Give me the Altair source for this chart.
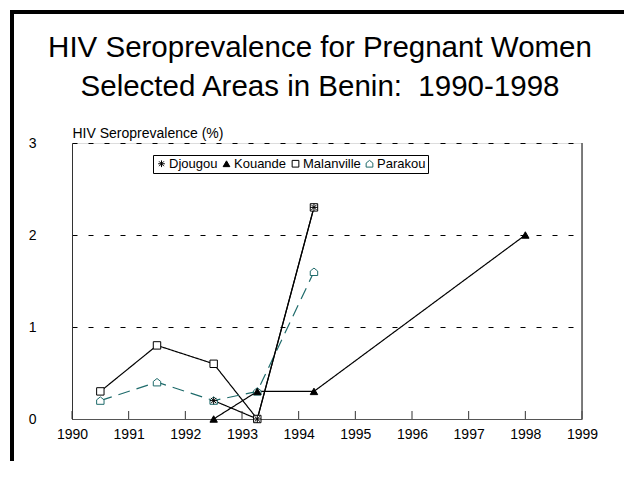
import altair as alt
import pandas as pd

# ---- data ----
series_order = ["Djougou", "Kouande", "Malanville", "Parakou"]

malanville_years = [1990.5, 1991.5, 1992.5, 1993.27, 1994.27]
malanville_vals = [0.3, 0.8, 0.6, 0.0, 2.3]

djougou_years = [1992.5, 1993.27, 1994.27]
djougou_vals = [0.2, 0.0, 2.3]

kouande_years = [1992.5, 1993.27, 1994.27, 1998.0]
kouande_vals = [0.0, 0.3, 0.3, 2.0]

parakou_years = [1990.5, 1991.5, 1992.5, 1993.27, 1994.27]
parakou_vals = [0.2, 0.4, 0.2, 0.3, 1.6]

x_ticks = list(range(1990, 2000))
y_ticks = [0, 1, 2, 3]

title_lines = ["HIV Seroprevalence for Pregnant Women", "Selected Areas in Benin:\u00a0 1990-1998"]

rows = []
for name, ys, vs in [("Malanville", malanville_years, malanville_vals),
                     ("Parakou", parakou_years, parakou_vals),
                     ("Kouande", kouande_years, kouande_vals),
                     ("Djougou", djougou_years, djougou_vals)]:
    for i, (x, v) in enumerate(zip(ys, vs)):
        rows.append({"series": name, "line_series": name, "year": x, "value": v, "ord": i})
df = pd.DataFrame(rows)

FONT = "Liberation Sans"
TEAL = "#1f6b6b"

star = "M-1,0L1,0M0,-1L0,1M-0.72,-0.72L0.72,0.72M-0.72,0.72L0.72,-0.72"
house = "M0,-1L1,-0.2L1,1L-1,1L-1,-0.2Z"

xscale = alt.Scale(domain=[1990, 1999], nice=False, zero=False)
yscale = alt.Scale(domain=[0, 3], nice=False)

base = alt.Chart(df)

xenc = alt.X("year:Q", scale=xscale,
             axis=alt.Axis(values=x_ticks, format="d", title=None, ticks=False,
                           labelFlush=False, labelPadding=8,
                           domainColor="#555555", grid=False))
yenc = alt.Y("value:Q", scale=yscale,
             axis=alt.Axis(values=y_ticks, format="d", title="HIV Seroprevalence (%)",
                           titleAngle=0, titleAlign="left", titleX=0, titleY=-6,
                           titleBaseline="alphabetic", labelFlush=False,
                           ticks=False, labelPadding=36,
                           domainColor="#333333", grid=True, gridColor="black",
                           gridDash=[5, 11], gridWidth=1, gridOpacity=1))

# lines use their own field so their hidden legends do not merge with the marker legend
lines = base.mark_line(strokeWidth=1.2).encode(
    x=xenc, y=yenc,
    color=alt.Color("line_series:N", scale=alt.Scale(range=["black", "black", "black", TEAL]),
                    legend=None),
    strokeDash=alt.StrokeDash("line_series:N",
                              scale=alt.Scale(range=[[1, 0], [1, 0], [1, 0], [12, 7]]),
                              legend=None),
    order="ord:Q",
)

legend = alt.Legend(orient="none", legendX=81, legendY=12, direction="horizontal",
                    title=None)

points = base.mark_point(size=55, strokeWidth=1, opacity=1).encode(
    x=alt.X("year:Q", scale=xscale),
    y=alt.Y("value:Q", scale=yscale),
    shape=alt.Shape("series:N", scale=alt.Scale(domain=series_order,
                    range=[star, "triangle-up", "square", house]), legend=legend),
    fill=alt.Fill("series:N", scale=alt.Scale(domain=series_order,
                  range=["transparent", "black", "white", "white"]), legend=legend),
    stroke=alt.Stroke("series:N", scale=alt.Scale(domain=series_order,
                      range=["black", "black", "black", TEAL]), legend=legend),
)

# upward tick marks on the x axis
tick_df = pd.DataFrame({"year": x_ticks})
xticks = alt.Chart(tick_df).mark_rule(color="#333333", strokeWidth=1).encode(
    x=alt.X("year:Q", scale=xscale), y=alt.value(276), y2=alt.value(268))

one = alt.Data(values=[{"a": 1}])
right_border = alt.Chart(one).mark_rule(color="#555555", strokeWidth=1.5).encode(
    x=alt.value(510), y=alt.value(0), y2=alt.value(276))
frame_left = alt.Chart(one).mark_rule(color="black", strokeWidth=4).encode(
    x=alt.value(-60), y=alt.value(-131), y2=alt.value(318))
frame_top = alt.Chart(one).mark_rule(color="black", strokeWidth=4).encode(
    x=alt.value(-62), x2=alt.value(552), y=alt.value(-131))

title1 = alt.Chart(one).mark_text(font=FONT, fontSize=29.5, align="center",
                                  baseline="alphabetic", color="black").encode(
    x=alt.value(248), y=alt.value(-86), text=alt.value(title_lines[0]))
title2 = alt.Chart(one).mark_text(font=FONT, fontSize=29.5, align="center",
                                  baseline="alphabetic", color="black").encode(
    x=alt.value(248), y=alt.value(-47), text=alt.value(title_lines[1]))

chart = alt.layer(lines, xticks, right_border, points, frame_left, frame_top,
                  title1, title2).properties(
    width=510, height=276,
    padding={"left": 0, "top": 2, "right": 0, "bottom": 0},
).configure_view(stroke=None).configure(background="white").configure_axis(
    labelFont=FONT, labelFontSize=14, labelColor="black",
    titleFont=FONT, titleFontSize=14, titleFontWeight="normal", titleColor="black",
).configure_legend(
    strokeColor="black", fillColor="white", padding=2,
    labelFont=FONT, labelFontSize=13, labelColor="black",
    symbolSize=45, columnPadding=2, labelOffset=1, symbolStrokeWidth=1,
)

chart.save("out.html", embed_options={"renderer": "svg", "actions": False})
